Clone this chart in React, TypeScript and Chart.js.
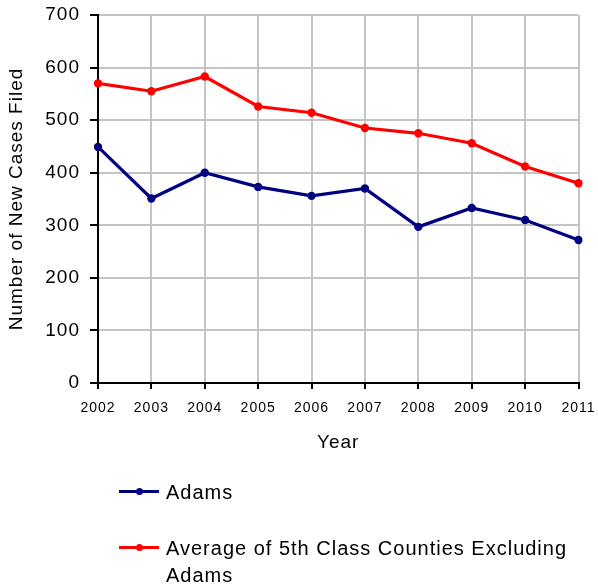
import React, { useEffect, useRef } from 'react';
import { Chart, registerables } from 'chart.js';

Chart.register(...registerables);

const years = ['2002', '2003', '2004', '2005', '2006', '2007', '2008', '2009', '2010', '2011'];
const adams = [449, 351, 400, 373, 356, 370, 297, 333, 310, 272];
const average = [570, 555, 583, 526, 514, 485, 475, 456, 412, 380];
const yMin = 0;
const yMax = 700;
const yStep = 100;

const seriesNames = ['Adams', 'Average of 5th Class Counties Excluding Adams'];
const seriesColors = ['#000080', '#ff0000'];

const FONT = "'Liberation Sans', Arial, sans-serif";

const spacingPlugin = {
  id: 'letterSpacing',
  beforeLayout(chart: any) {
    chart.ctx.letterSpacing = '1px';
  },
  beforeDraw(chart: any) {
    chart.ctx.letterSpacing = '1px';
  },
};

export default function App() {
  const ref = useRef<HTMLCanvasElement | null>(null);

  useEffect(() => {
    if (!ref.current) return;
    const chart = new Chart(ref.current, {
      type: 'line',
      data: {
        labels: years,
        datasets: [
          {
            label: seriesNames[0],
            data: adams,
            borderColor: seriesColors[0],
            backgroundColor: seriesColors[0],
            borderWidth: 3.2,
            pointRadius: 4.2,
            pointBorderWidth: 0,
            tension: 0,
          },
          {
            label: seriesNames[1],
            data: average,
            borderColor: seriesColors[1],
            backgroundColor: seriesColors[1],
            borderWidth: 3.2,
            pointRadius: 4.2,
            pointBorderWidth: 0,
            tension: 0,
          },
        ],
      },
      options: {
        responsive: false,
        animation: false,
        devicePixelRatio: 1,
        layout: { padding: { left: 0, top: 15, right: 19.5, bottom: 126 } },
        plugins: {
          legend: { display: false },
          tooltip: { enabled: false },
        },
        scales: {
          x: {
            type: 'category',
            offset: false,
            grid: {
              color: '#c4c4c4',
              lineWidth: 2,
              tickColor: '#000',
              tickLength: 6,
            },
            border: { display: true, color: '#000', width: 2 },
            ticks: {
              color: '#000',
              font: { family: FONT, size: 14 },
              padding: 11,
              maxRotation: 0,
              autoSkip: false,
            },
            title: {
              display: true,
              text: 'Year',
              color: '#000',
              font: { family: FONT, size: 19 },
              padding: { top: 0, bottom: 4 },
            },
            afterFit(scale: any) {
              scale.height = 75;
              scale.paddingLeft = 0;
              scale.paddingRight = 0;
            },
          },
          y: {
            type: 'linear',
            min: yMin,
            max: yMax,
            ticks: {
              stepSize: yStep,
              color: '#000',
              font: { family: FONT, size: 19 },
              padding: 10,
            },
            grid: {
              color: '#c4c4c4',
              lineWidth: 2,
              tickColor: '#000',
              tickLength: 8,
            },
            border: { display: true, color: '#000', width: 2 },
            title: {
              display: true,
              text: 'Number of New Cases Filed',
              color: '#000',
              font: { family: FONT, size: 19 },
              padding: { top: 5, bottom: 0 },
            },
            afterFit(scale: any) {
              scale.width = 98;
              scale.paddingTop = 0;
              scale.paddingBottom = 0;
            },
          },
        },
      },
      plugins: [spacingPlugin],
    });
    return () => chart.destroy();
  }, []);

  const legendTops = [478.7, 534.7];

  return (
    <div style={{ position: 'absolute', left: 0, top: 0, width: 598, height: 584, background: '#fff', overflow: 'hidden' }}>
      <canvas ref={ref} width={598} height={584} style={{ position: 'absolute', left: 0, top: 0 }} />
      {seriesNames.map((name, i) => (
        <div key={name} style={{ position: 'absolute', left: 0, top: legendTops[i], width: 598 }}>
          <div
            style={{
              position: 'absolute',
              left: 119,
              top: 13.3 - 1.5,
              width: 40,
              height: 3,
              background: seriesColors[i],
            }}
          />
          <div
            style={{
              position: 'absolute',
              left: 139 - 3.5,
              top: 13.3 - 3.5,
              width: 7,
              height: 7,
              borderRadius: '50%',
              background: seriesColors[i],
            }}
          />
          <div
            style={{
              position: 'absolute',
              left: 166,
              top: 0,
              width: 415,
              fontFamily: FONT,
              fontSize: 20,
              lineHeight: '27px',
              letterSpacing: '1px',
              color: '#000',
            }}
          >
            {name}
          </div>
        </div>
      ))}
    </div>
  );
}
